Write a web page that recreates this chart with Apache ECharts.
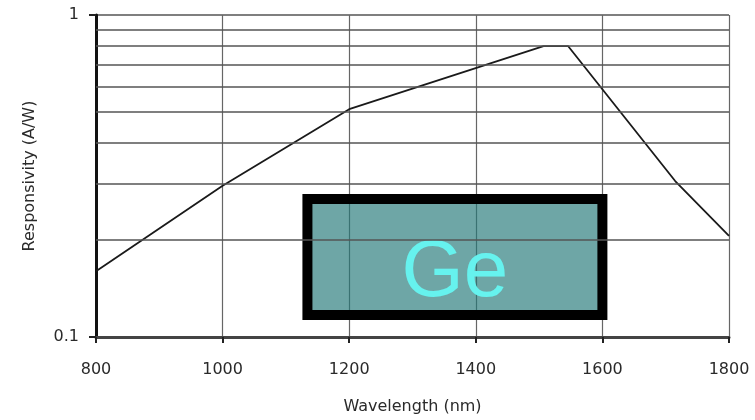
<!DOCTYPE html>
<html>
<head>
<meta charset="utf-8">
<script src="https://cdn.jsdelivr.net/npm/echarts@6/dist/echarts.min.js"></script>
<style>
html,body{margin:0;padding:0;background:#fff;}
#chart{width:755px;height:420px;}
</style>
</head>
<body>
<div id="chart"></div>
<script>
// Data
var wavelengths = [800, 1000, 1200, 1507, 1546, 1715, 1800];
var responsivity = [0.16, 0.295, 0.51, 0.8, 0.8, 0.305, 0.206];
var xTicks = [800, 1000, 1200, 1400, 1600, 1800];
var yGridValues = [0.2, 0.3, 0.4, 0.5, 0.6, 0.7, 0.8, 0.9];
var boxRange = {x: [1134, 1600], y: [0.117, 0.2685]};
var boxLabel = 'Ge';

var chart = echarts.init(document.getElementById('chart'));
var font = 'DejaVu Sans';
chart.setOption({
  animation: false,
  backgroundColor: '#ffffff',
  grid: {left: 96, right: 26, top: 15, bottom: 80},
  xAxis: {
    type: 'value', min: 800, max: 1800, interval: 200,
    name: 'Wavelength (nm)', nameLocation: 'middle', nameGap: 62,
    nameTextStyle: {fontFamily: font, fontSize: 16, color: '#2a2a2a'},
    axisLine: {show: true, lineStyle: {color: '#444', width: 3}},
    axisTick: {show: true, length: 6, lineStyle: {color: '#222', width: 2}},
    axisLabel: {margin: 25, fontFamily: font, fontSize: 16, color: '#2a2a2a',
      formatter: function (v) { return xTicks.indexOf(v) >= 0 ? String(v) : ''; }},
    splitLine: {show: true, lineStyle: {color: '#666', width: 1.2}}
  },
  yAxis: {
    type: 'log', logBase: 10, min: 0.1, max: 1,
    name: 'Responsivity (A/W)', nameLocation: 'middle', nameGap: 58,
    nameTextStyle: {fontFamily: font, fontSize: 16, color: '#2a2a2a'},
    axisLine: {show: true, lineStyle: {color: '#111', width: 3}},
    axisTick: {show: true, length: 7, lineStyle: {color: '#222', width: 2}},
    axisLabel: {margin: 17, fontFamily: font, fontSize: 16, color: '#2a2a2a',
      formatter: function (v) { return String(v); }},
    splitLine: {show: true, lineStyle: {color: '#555', width: 1.5}}
  },
  series: [
    {
      type: 'line', z: 1, data: [], silent: true,
      markLine: {
        silent: true, symbol: ['none', 'none'], label: {show: false},
        lineStyle: {color: '#555', width: 1.5, type: 'solid'},
        data: yGridValues.map(function (v) { return {yAxis: v}; })
      }
    },
    {
      type: 'line', z: 3,
      data: wavelengths.map(function (w, i) { return [w, responsivity[i]]; }),
      showSymbol: false, symbol: 'none',
      lineStyle: {color: '#1a1a1a', width: 1.8}
    },
    {
      type: 'line', z: 4, data: [], silent: true,
      markArea: {
        silent: true,
        itemStyle: {color: 'rgba(35,120,120,0.66)', borderColor: '#000', borderWidth: 10},
        label: {show: true, position: 'inside', offset: [0, 17], color: '#66f2ee',
          fontFamily: 'Liberation Sans', fontSize: 80},
        data: [[{name: boxLabel, xAxis: boxRange.x[0], yAxis: boxRange.y[1]},
                {xAxis: boxRange.x[1], yAxis: boxRange.y[0]}]]
      }
    }
  ]
});
</script>
</body>
</html>
